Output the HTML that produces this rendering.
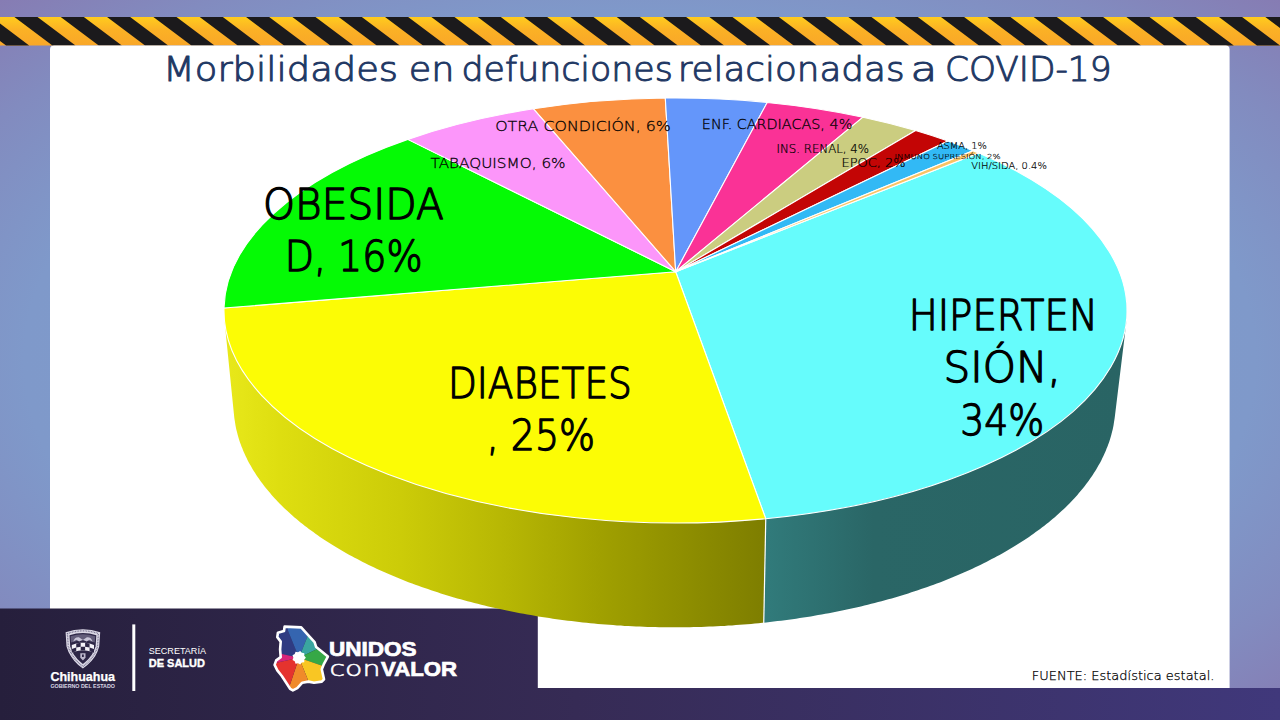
<!DOCTYPE html>
<html lang="es"><head><meta charset="utf-8"><title>Morbilidades en defunciones relacionadas a COVID-19</title>
<style>html,body{margin:0;padding:0;background:#8080b8;overflow:hidden}svg{display:block}</style>
</head><body>
<svg width="1280" height="720" viewBox="0 0 1280 720" font-family="'Liberation Sans', sans-serif">
<defs>
<radialGradient id="bg" cx="0.5" cy="0.5" r="0.7071">
<stop offset="0" stop-color="#7c9fd0"/><stop offset="0.68" stop-color="#7f99ca"/><stop offset="0.85" stop-color="#828bbf"/><stop offset="1" stop-color="#867cb3"/>
</radialGradient>
<linearGradient id="foot" x1="0" x2="1" y1="0" y2="0">
<stop offset="0" stop-color="#261f3c"/><stop offset="0.45" stop-color="#362b55"/><stop offset="1" stop-color="#40387b"/>
</linearGradient>
<linearGradient id="yel" x1="0" x2="0" y1="0" y2="1">
<stop offset="0" stop-color="#ffcc1e"/><stop offset="0.45" stop-color="#fbb125"/><stop offset="1" stop-color="#f9a728"/>
</linearGradient>
<linearGradient id="wy" gradientUnits="userSpaceOnUse" x1="226" x2="765" y1="0" y2="0">
<stop offset="0" stop-color="#e8e81a"/><stop offset="0.1" stop-color="#dede10"/><stop offset="0.323" stop-color="#cccc08"/>
<stop offset="0.508" stop-color="#b8b804"/><stop offset="0.694" stop-color="#a0a000"/><stop offset="0.879" stop-color="#8b8b00"/><stop offset="1" stop-color="#7e7e00"/>
</linearGradient>
<linearGradient id="wt" gradientUnits="userSpaceOnUse" x1="765" x2="1127" y1="0" y2="0">
<stop offset="0" stop-color="#317b7b"/><stop offset="0.3" stop-color="#2a6666"/><stop offset="1" stop-color="#296464"/>
</linearGradient>
</defs>
<rect width="1280" height="720" fill="url(#bg)"/>
<rect x="0" y="17" width="1280" height="28.5" fill="url(#yel)"/>
<path d="M-78.26 17l23.1 0l38 28.5l-23.1 0zM-31.93 17l23.1 0l38 28.5l-23.1 0zM14.40 17l23.1 0l38 28.5l-23.1 0zM60.73 17l23.1 0l38 28.5l-23.1 0zM107.06 17l23.1 0l38 28.5l-23.1 0zM153.39 17l23.1 0l38 28.5l-23.1 0zM199.72 17l23.1 0l38 28.5l-23.1 0zM246.05 17l23.1 0l38 28.5l-23.1 0zM292.38 17l23.1 0l38 28.5l-23.1 0zM338.71 17l23.1 0l38 28.5l-23.1 0zM385.04 17l23.1 0l38 28.5l-23.1 0zM431.37 17l23.1 0l38 28.5l-23.1 0zM477.70 17l23.1 0l38 28.5l-23.1 0zM524.03 17l23.1 0l38 28.5l-23.1 0zM570.36 17l23.1 0l38 28.5l-23.1 0zM616.69 17l23.1 0l38 28.5l-23.1 0zM663.02 17l23.1 0l38 28.5l-23.1 0zM709.35 17l23.1 0l38 28.5l-23.1 0zM755.68 17l23.1 0l38 28.5l-23.1 0zM802.01 17l23.1 0l38 28.5l-23.1 0zM848.34 17l23.1 0l38 28.5l-23.1 0zM894.67 17l23.1 0l38 28.5l-23.1 0zM941.00 17l23.1 0l38 28.5l-23.1 0zM987.33 17l23.1 0l38 28.5l-23.1 0zM1033.66 17l23.1 0l38 28.5l-23.1 0zM1079.99 17l23.1 0l38 28.5l-23.1 0zM1126.32 17l23.1 0l38 28.5l-23.1 0zM1172.65 17l23.1 0l38 28.5l-23.1 0zM1218.98 17l23.1 0l38 28.5l-23.1 0zM1265.31 17l23.1 0l38 28.5l-23.1 0z" fill="#1b1a1c"/>
<rect x="50" y="45.6" width="1179.6" height="660" rx="4" fill="#fff"/>
<path d="M0 608.6H534.8a3 3 0 0 1 3 3V688H1280V720H0Z" fill="url(#foot)"/>
<g>
<path d="M224.4 301.2L224.3 303.1L224.2 304.9L224.1 306.8L224.0 308.6L224.0 310.5L224.0 312.4L224.1 314.2L224.2 316.1L224.3 317.9L224.4 319.8L234.1 415.8L234.3 417.7L234.6 419.7L234.9 421.6L235.2 423.6L235.5 425.5L235.9 427.4L236.3 429.4L236.8 431.3L237.3 433.2L237.8 435.2L238.3 437.1L238.9 439.0L239.5 440.9L240.2 442.9L240.9 444.8L241.6 446.7L242.4 448.6L243.1 450.5L244.0 452.4L244.8 454.3L245.7 456.2L246.6 458.1L247.5 460.0L248.5 461.9L249.5 463.7L250.6 465.6L251.7 467.5L252.8 469.4L253.9 471.2L255.1 473.1L256.3 474.9L257.5 476.8L258.8 478.6L260.1 480.4L261.4 482.3L262.8 484.1L264.2 485.9L265.6 487.7L267.1 489.5L268.6 491.3L270.1 493.1L271.6 494.9L273.2 496.7L274.8 498.4L276.5 500.2L278.1 501.9L279.8 503.7L281.6 505.4L283.3 507.2L285.1 508.9L286.9 510.6L288.8 512.3L290.7 514.0L292.6 515.7L294.5 517.4L296.5 519.1L298.5 520.7L300.5 522.4L302.6 524.0L304.6 525.7L306.8 527.3L308.9 528.9L311.1 530.5L313.3 532.1L315.5 533.7L317.7 535.3L320.0 536.9L322.3 538.4L324.6 540.0L327.0 541.5L329.4 543.0L331.8 544.6L334.2 546.1L336.7 547.6L339.2 549.1L341.7 550.5L344.2 552.0L346.8 553.4L349.4 554.9L352.0 556.3L354.6 557.7L357.3 559.1L360.0 560.5L362.7 561.9L365.4 563.3L368.2 564.7L370.9 566.0L373.7 567.3L376.6 568.7L379.4 570.0L382.3 571.3L385.2 572.6L388.1 573.8L391.0 575.1L394.0 576.3L397.0 577.6L400.0 578.8L403.0 580.0L406.0 581.2L409.1 582.4L412.2 583.5L415.3 584.7L418.4 585.8L421.6 586.9L424.7 588.0L427.9 589.1L431.1 590.2L434.3 591.3L437.6 592.3L440.8 593.4L444.1 594.4L447.4 595.4L450.7 596.4L454.0 597.4L457.3 598.4L460.7 599.3L464.1 600.3L467.5 601.2L470.9 602.1L474.3 603.0L477.7 603.8L481.2 604.7L484.6 605.6L488.1 606.4L491.6 607.2L495.1 608.0L498.7 608.8L502.2 609.6L505.7 610.3L509.3 611.0L512.9 611.8L516.5 612.5L520.1 613.2L523.7 613.8L527.3 614.5L530.9 615.1L534.6 615.8L538.2 616.4L541.9 617.0L545.6 617.5L549.2 618.1L552.9 618.7L556.6 619.2L560.4 619.7L564.1 620.2L567.8 620.7L571.6 621.1L575.3 621.6L579.1 622.0L582.8 622.4L586.6 622.8L590.4 623.2L594.1 623.6L597.9 623.9L601.7 624.2L605.5 624.6L609.3 624.8L613.1 625.1L616.9 625.4L620.8 625.6L624.6 625.9L628.4 626.1L632.2 626.3L636.1 626.5L639.9 626.6L643.7 626.8L647.6 626.9L651.4 627.0L655.3 627.1L659.1 627.2L663.0 627.2L666.8 627.3L670.7 627.3L674.5 627.3L678.3 627.3L682.2 627.3L686.0 627.2L689.9 627.2L693.7 627.1L697.6 627.0L701.4 626.9L705.3 626.8L709.1 626.6L712.9 626.5L716.8 626.3L720.6 626.1L724.4 625.9L728.2 625.6L732.1 625.4L735.9 625.1L739.7 624.8L743.5 624.6L747.3 624.2L751.1 623.9L754.9 623.6L758.6 623.2L762.4 622.8L763.8 622.7L770.0 300.0L224.6 300.0L224.4 301.2Z" fill="url(#wy)"/>
<path d="M769.9 622.0L773.7 621.6L777.4 621.1L781.2 620.7L784.9 620.2L788.6 619.7L792.4 619.2L796.1 618.7L799.8 618.1L803.4 617.5L807.1 617.0L810.8 616.4L814.4 615.8L818.1 615.1L821.7 614.5L825.3 613.8L828.9 613.2L832.5 612.5L836.1 611.8L839.7 611.0L843.3 610.3L846.8 609.6L850.3 608.8L853.9 608.0L857.4 607.2L860.9 606.4L864.4 605.6L867.8 604.7L871.3 603.8L874.7 603.0L878.1 602.1L881.5 601.2L884.9 600.3L888.3 599.3L891.7 598.4L895.0 597.4L898.3 596.4L901.6 595.4L904.9 594.4L908.2 593.4L911.4 592.3L914.7 591.3L917.9 590.2L921.1 589.1L924.3 588.0L927.4 586.9L930.6 585.8L933.7 584.7L936.8 583.5L939.9 582.4L943.0 581.2L946.0 580.0L949.0 578.8L952.0 577.6L955.0 576.3L958.0 575.1L960.9 573.8L963.8 572.6L966.7 571.3L969.6 570.0L972.4 568.7L975.3 567.3L978.1 566.0L980.8 564.7L983.6 563.3L986.3 561.9L989.0 560.5L991.7 559.1L994.4 557.7L997.0 556.3L999.6 554.9L1002.2 553.4L1004.8 552.0L1007.3 550.5L1009.8 549.1L1012.3 547.6L1014.8 546.1L1017.2 544.6L1019.6 543.0L1022.0 541.5L1024.4 540.0L1026.7 538.4L1029.0 536.9L1031.3 535.3L1033.5 533.7L1035.7 532.1L1037.9 530.5L1040.1 528.9L1042.2 527.3L1044.4 525.7L1046.4 524.0L1048.5 522.4L1050.5 520.7L1052.5 519.1L1054.5 517.4L1056.4 515.7L1058.3 514.0L1060.2 512.3L1062.1 510.6L1063.9 508.9L1065.7 507.2L1067.4 505.4L1069.2 503.7L1070.9 501.9L1072.5 500.2L1074.2 498.4L1075.8 496.7L1077.4 494.9L1078.9 493.1L1080.4 491.3L1081.9 489.5L1083.4 487.7L1084.8 485.9L1086.2 484.1L1087.6 482.3L1088.9 480.4L1090.2 478.6L1091.5 476.8L1092.7 474.9L1093.9 473.1L1095.1 471.2L1096.2 469.4L1097.3 467.5L1098.4 465.6L1099.5 463.7L1100.5 461.9L1101.5 460.0L1102.4 458.1L1103.3 456.2L1104.2 454.3L1105.0 452.4L1105.9 450.5L1106.6 448.6L1107.4 446.7L1108.1 444.8L1108.8 442.9L1109.5 440.9L1110.1 439.0L1110.7 437.1L1111.2 435.2L1111.7 433.2L1112.2 431.3L1112.7 429.4L1113.1 427.4L1113.5 425.5L1113.8 423.6L1114.1 421.6L1114.4 419.7L1114.7 417.7L1126.2 323.5L1126.4 321.6L1126.6 319.8L1126.7 317.9L1126.8 316.1L1126.9 314.2L1127.0 312.4L1127.0 310.5L1127.0 308.6L1126.9 306.8L1126.8 304.9L1126.7 303.1L1126.6 301.2L1126.4 300.0L770.0 300.0L763.8 622.7L766.2 622.4L769.9 622.0Z" fill="url(#wt)"/>
<path d="M765.75 519.25L763.75 623.0" stroke="#fff" stroke-width="1.2"/>
<g stroke="#fff" stroke-width="1.1" stroke-linejoin="round">
<path d="M675.70 271.70L978.75 153.07A451.5 212.5 0 0 1 765.75 518.71Z" fill="#66FCFC"/>
<path d="M675.70 271.70L765.75 518.71A451.5 212.5 0 0 1 224.00 308.00Z" fill="#FCFC05"/>
<path d="M675.70 271.70L224.00 308.00A451.5 212.5 0 0 1 407.80 139.38Z" fill="#05FA05"/>
<path d="M675.70 271.70L407.80 139.38A451.5 212.5 0 0 1 533.60 108.77Z" fill="#FC96FA"/>
<path d="M675.70 271.70L533.60 108.77A451.5 212.5 0 0 1 665.30 98.05Z" fill="#FB9040"/>
<path d="M675.70 271.70L665.30 98.05A451.5 212.5 0 0 1 767.20 102.43Z" fill="#6496FA"/>
<path d="M675.70 271.70L767.20 102.43A451.5 212.5 0 0 1 863.00 117.19Z" fill="#FA3296"/>
<path d="M675.70 271.70L863.00 117.19A451.5 212.5 0 0 1 915.60 130.54Z" fill="#CBCD80"/>
<path d="M675.70 271.70L915.60 130.54A451.5 212.5 0 0 1 948.00 141.07Z" fill="#C30505"/>
<path d="M675.70 271.70L948.00 141.07A451.5 212.5 0 0 1 973.00 150.65Z" fill="#32B9F5"/>
<path d="M675.70 271.70L973.00 150.65A451.5 212.5 0 0 1 978.75 153.07Z" fill="#FAC364"/>
</g>
</g>

<g>
<path d="M65.6 632.2Q82.9 626.2 100.2 632.2L99.2 646.5Q97.8 652 95 656.4Q91.5 661.5 87.4 664.9L82.9 668.5L78.3 664.9Q74.3 661.5 71.1 656.4Q68 652 66.500 646.5Z" fill="#dcd9e6"/>
<path d="M67.4 633.6Q82.9 628.2 98.400 633.6L97.5 646.4Q96.1 651.5 93.5 655.6Q90.200 660.400 86.4 663.6L82.9 666.4L79.400 663.6Q75.6 660.400 72.6 655.6Q69.7 651.5 68.3 646.4Z" fill="none" stroke="#6f6a88" stroke-width="1.3" stroke-dasharray="0.8 0.8"/>
<path d="M69.5 635.3Q82.9 630.8 96.300 635.3L95.6 646.2Q94.300 651 91.8 654.7Q88.7 659.1 85.300 662.1L82.9 664L80.5 662.1Q77.100 659.1 74 654.7Q71.5 651 70.200 646.2Z" fill="#2d2646"/>
<path d="M70.6 636.3Q82.9 632.2 95.2 636.3L94.800 642.6Q82.9 638.6 71 642.6Z" fill="#8f8aa6" opacity="0.55"/>
<path d="M73.2 641.600q1.500-4.800 5.700-4.300l4 2.700 4-2.700q4.200-.5 5.700 4.300l-3.300-1.800-2.600 1.600-3.800-1.700-3.800 1.700-2.600-1.600z" fill="#c9c5d8"/>
<path d="M71.80 645.00L74.02 644.17L76.24 643.53L78.46 643.07L80.68 642.79L82.90 642.70L85.12 642.79L87.34 643.07L89.56 643.53L91.78 644.17L94.00 645.00L94.00 652.80L91.78 651.97L89.56 651.33L87.34 650.87L85.12 650.59L82.90 650.50L80.68 650.59L78.46 650.87L76.24 651.33L74.02 651.97L71.80 652.80Z" fill="#f4f2f8"/>
<path d="M76.24 643.53L80.68 642.79L80.68 646.69L76.24 647.43ZM85.12 642.79L89.56 643.53L89.56 647.43L85.12 646.69ZM71.80 648.90L76.24 647.43L76.24 651.33L71.80 652.80ZM80.68 646.69L85.12 646.69L85.12 650.59L80.68 650.59ZM89.56 647.43L94.00 648.90L94.00 652.80L89.56 651.33Z" fill="#2d2646"/>
<path d="M80.300 653.2h5.200v4.600l-2.600 2.800-2.600-2.800z" fill="#bdb8cc"/>
<path d="M82 654.5h1.800v2.600h-1.800z" fill="#2d2646"/>
</g>
<rect x="132.3" y="624.4" width="3" height="66.6" fill="#fff"/>

<g transform="translate(264 616)">
<clipPath id="mc"><path d="M20.6 10.6L37.2 11.4L44.4 19.4L50.6 26.1L52.2 31.1L63.9 40.6L60.0 47.8L57.8 53.3L60.0 63.3L57.8 65.6L50.0 66.7L44.4 65.6L38.3 66.7L33.3 72.2L28.9 74.4L26.1 72.8L22.2 66.7L17.8 60.0L13.3 54.4L10.6 48.9L12.2 44.4L16.7 41.1L16.1 33.3L16.7 25.6L13.3 21.1L13.9 16.7L20.0 15.0Z"/></clipPath>
<g clip-path="url(#mc)"><path d="M35 41.7L1.7 35.0L1.7 -2.7L22.8 -2.7L23.9 14.5Z" fill="#2f3b82"/><path d="M35 41.7L23.9 14.5L22.8 -2.7L52.8 -2.7L43.3 21.1Z" fill="#3565b0"/><path d="M35 41.7L43.3 21.1L52.8 -2.7L79.4 -2.7L79.4 20.6L52.2 33.4Z" fill="#3aa6a0"/><path d="M35 41.7L52.2 33.4L79.4 20.6L79.4 57.3L58.9 50.0Z" fill="#36a846"/><path d="M35 41.7L58.9 50.0L79.4 57.3L79.4 86.1L49.4 86.1L43.3 62.3Z" fill="#f9c623"/><path d="M35 41.7L43.3 62.3L49.4 86.1L19.4 86.1L26.7 66.7Z" fill="#f08a2a"/><path d="M35 41.7L26.7 66.7L19.4 86.1L-9.4 86.1L-9.4 50.6L12.2 46.7Z" fill="#e5332e"/><path d="M35 41.7L12.2 46.7L-9.4 50.6L-9.4 35.0L16.7 37.8Z" fill="#d8267a"/></g>
<path d="M41.90 41.70L40.26 43.62L40.29 46.14L37.80 46.55L36.20 48.50L34.03 47.21L31.55 47.68L30.71 45.30L28.52 44.06L29.40 41.70L28.52 39.34L30.71 38.10L31.55 35.72L34.03 36.19L36.20 34.90L37.80 36.85L40.29 37.26L40.26 39.78Z" fill="#fff"/>
<path d="M20.6 10.6L37.2 11.4L44.4 19.4L50.6 26.1L52.2 31.1L63.9 40.6L60.0 47.8L57.8 53.3L60.0 63.3L57.8 65.6L50.0 66.7L44.4 65.6L38.3 66.7L33.3 72.2L28.9 74.4L26.1 72.8L22.2 66.7L17.8 60.0L13.3 54.4L10.6 48.9L12.2 44.4L16.7 41.1L16.1 33.3L16.7 25.6L13.3 21.1L13.9 16.7L20.0 15.0Z" fill="none" stroke="#fff" stroke-width="2.6" stroke-linejoin="round"/>
</g>
<g font-family="'DejaVu Sans Light','DejaVu Sans','Liberation Sans',sans-serif">
<text y="81.3" font-size="34.6" fill="#1F3864" stroke="#1F3864" stroke-width="1.0" stroke-linejoin="round"><tspan x="163.06" textLength="235.01" lengthAdjust="spacingAndGlyphs">Morbilidades</tspan><tspan x="408.71" textLength="45.71" lengthAdjust="spacingAndGlyphs">en</tspan><tspan x="461.44" textLength="211.35" lengthAdjust="spacingAndGlyphs">defunciones</tspan><tspan x="677.67" textLength="226.90" lengthAdjust="spacingAndGlyphs">relacionadas</tspan><tspan x="910.47" textLength="26.73" lengthAdjust="spacingAndGlyphs">a</tspan><tspan x="944.90" textLength="166.69" lengthAdjust="spacingAndGlyphs">COVID-19</tspan></text>
<text x="263.05" y="218.6" font-size="41.8" fill="#000" stroke="#000" stroke-width="1.34" stroke-linejoin="round" textLength="180.76" lengthAdjust="spacingAndGlyphs">OBESIDA</text>
<text x="284.74" y="270.5" font-size="41.8" fill="#000" stroke="#000" stroke-width="1.34" stroke-linejoin="round" textLength="137.77" lengthAdjust="spacingAndGlyphs">D, 16%</text>
<text x="447.96" y="398.1" font-size="41.8" fill="#000" stroke="#000" stroke-width="1.34" stroke-linejoin="round" textLength="183.93" lengthAdjust="spacingAndGlyphs">DIABETES</text>
<text x="486.73" y="450.2" font-size="41.8" fill="#000" stroke="#000" stroke-width="1.34" stroke-linejoin="round" textLength="108.24" lengthAdjust="spacingAndGlyphs">, 25%</text>
<text x="908.63" y="329.6" font-size="41.8" fill="#000" stroke="#000" stroke-width="1.34" stroke-linejoin="round" textLength="189.17" lengthAdjust="spacingAndGlyphs">HIPERTEN</text>
<text x="943.63" y="381.5" font-size="41.8" fill="#000" stroke="#000" stroke-width="1.34" stroke-linejoin="round" textLength="117.19" lengthAdjust="spacingAndGlyphs">SIÓN,</text>
<text x="960.17" y="434.6" font-size="41.8" fill="#000" stroke="#000" stroke-width="1.34" stroke-linejoin="round" textLength="84.06" lengthAdjust="spacingAndGlyphs">34%</text>
<text x="495.17" y="130.6" font-size="14.7" fill="#000" stroke="#000" stroke-width="0.29" stroke-linejoin="round" textLength="175.67" lengthAdjust="spacingAndGlyphs">OTRA CONDICIÓN, 6%</text>
<text x="430.5" y="168.4" font-size="14.7" fill="#000" stroke="#000" stroke-width="0.29" stroke-linejoin="round" textLength="135.10" lengthAdjust="spacingAndGlyphs">TABAQUISMO, 6%</text>
<text x="701.88" y="128.6" font-size="13.8" fill="#000" stroke="#000" stroke-width="0.28" stroke-linejoin="round" textLength="150.41" lengthAdjust="spacingAndGlyphs">ENF. CARDIACAS, 4%</text>
<text x="776.49" y="152.7" font-size="11.5" fill="#000" stroke="#000" stroke-width="0.23" stroke-linejoin="round" textLength="92.51" lengthAdjust="spacingAndGlyphs">INS. RENAL, 4%</text>
<text x="841.46" y="166.7" font-size="11.5" fill="#000" stroke="#000" stroke-width="0.23" stroke-linejoin="round" textLength="64.07" lengthAdjust="spacingAndGlyphs">EPOC, 2%</text>
<text x="936.9" y="148.5" font-size="9.1" fill="#000" stroke="#000" stroke-width="0.18" stroke-linejoin="round" textLength="50.00" lengthAdjust="spacingAndGlyphs">ASMA, 1%</text>
<text x="894.4" y="158.5" font-size="6.9" fill="#000" stroke="#000" stroke-width="0.14" stroke-linejoin="round" textLength="106.20" lengthAdjust="spacingAndGlyphs">INMUNO SUPRESIÓN, 2%</text>
<text x="971.31" y="168.7" font-size="9.4" fill="#000" stroke="#000" stroke-width="0.19" stroke-linejoin="round" textLength="75.54" lengthAdjust="spacingAndGlyphs">VIH/SIDA, 0.4%</text>
<text x="1031.8" y="679.9" font-size="12.6" fill="#000" stroke="#000" stroke-width="0.25" stroke-linejoin="round" textLength="182.60" lengthAdjust="spacingAndGlyphs">FUENTE: Estadística estatal.</text>
</g>
<g>
<text x="50.4" y="681" font-size="12.2" fill="#fff" textLength="64.6" lengthAdjust="spacingAndGlyphs" font-weight="bold" stroke="#fff" stroke-width="0.25">Chihuahua</text>
<text x="50.4" y="687.8" font-size="5.2" fill="#d9d5e4" textLength="64.6" lengthAdjust="spacingAndGlyphs" font-weight="bold">GOBIERNO DEL ESTADO</text>
<text x="148.75" y="654" font-size="9.8" fill="#fff" textLength="57.2" lengthAdjust="spacingAndGlyphs">SECRETARÍA</text>
<text x="148.75" y="666.5" font-size="10.5" fill="#fff" textLength="56.2" lengthAdjust="spacingAndGlyphs" font-weight="bold" stroke="#fff" stroke-width="0.35">DE SALUD</text>
<text x="329" y="656" font-size="19.5" fill="#fff" textLength="87.6" lengthAdjust="spacingAndGlyphs" font-weight="bold" stroke="#fff" stroke-width="0.7">UNIDOS</text>
<text x="329.5" y="675.6" font-size="20.6" fill="#fff" textLength="51" lengthAdjust="spacingAndGlyphs" font-family="'DejaVu Sans Light','DejaVu Sans','Liberation Sans',sans-serif" stroke="#fff" stroke-width="0.55">con</text>
<text x="381" y="675.6" font-size="19.5" fill="#fff" textLength="76" lengthAdjust="spacingAndGlyphs" font-weight="bold" stroke="#fff" stroke-width="0.7">VALOR</text>
</g>
</svg>
</body></html>
